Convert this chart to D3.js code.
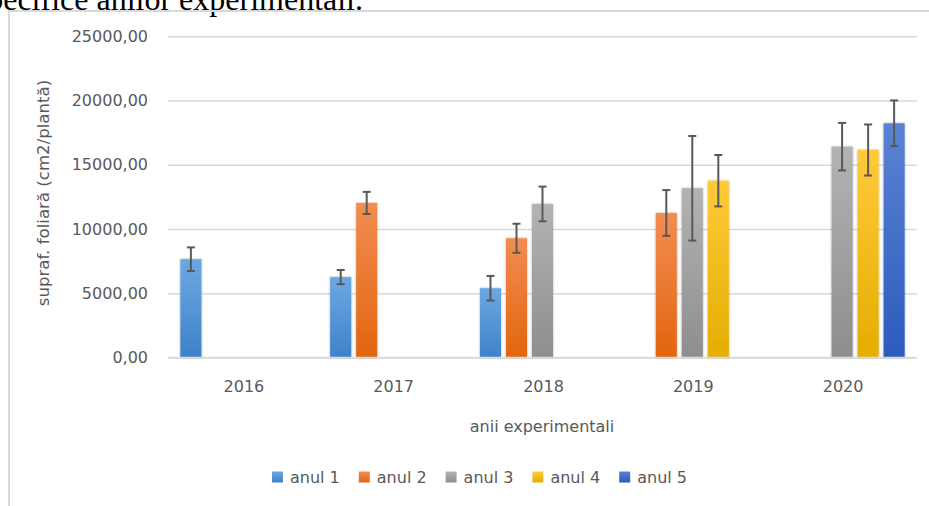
<!DOCTYPE html>
<html>
<head>
<meta charset="utf-8">
<script src="https://cdn.jsdelivr.net/npm/d3@7"></script>
<style>
  body { margin: 0; background: #fff; }
  svg { display: block; }
</style>
</head>
<body>
<div id="chart"></div>
<script>
const years = ["2016", "2017", "2018", "2019", "2020"];
const seriesNames = ["anul 1", "anul 2", "anul 3", "anul 4", "anul 5"];
const anul1 = [7650, 6260, 5390, null, null];
const anul2 = [null, 12030, 9280, 11250, null];
const anul3 = [null, null, 11950, 13170, 16410];
const anul4 = [null, null, null, 13760, 16150];
const anul5 = [null, null, null, null, 18230];
const err1 = [920, 550, 960, null, null];
const err2 = [null, 860, 1130, 1780, null];
const err3 = [null, null, 1350, 4070, 1850];
const err4 = [null, null, null, 2000, 1985];
const err5 = [null, null, null, null, 1780];
const yTicks = [0, 5000, 10000, 15000, 20000, 25000];

const values = [anul1, anul2, anul3, anul4, anul5];
const errors = [err1, err2, err3, err4, err5];

const width = 929, height = 506;
const fontUI = "'DejaVu Sans', sans-serif";
const textColor = "#595959";

const svg = d3.select("#chart").append("svg")
    .attr("width", width)
    .attr("height", height);

// gradients per series (lighter top, darker bottom)
const gradStops = [
    ["#6ca8e2", "#3f82c9"],
    ["#f28d52", "#e2650f"],
    ["#b3b3b3", "#8e8e8e"],
    ["#ffca3a", "#e4ad00"],
    ["#5b83d3", "#2c5bbd"]
];
const defs = svg.append("defs");
gradStops.forEach((c, i) => {
    const g = defs.append("linearGradient")
        .attr("id", "grad" + i)
        .attr("x1", 0).attr("y1", 0).attr("x2", 0).attr("y2", 1);
    g.append("stop").attr("offset", "0%").attr("stop-color", c[0]);
    g.append("stop").attr("offset", "100%").attr("stop-color", c[1]);
});
const shadow = defs.append("filter").attr("id", "shadow")
    .attr("x", "-30%").attr("y", "-10%").attr("width", "160%").attr("height", "120%");
shadow.append("feDropShadow")
    .attr("dx", 0).attr("dy", 0)
    .attr("stdDeviation", 1.2)
    .attr("flood-color", "#000")
    .attr("flood-opacity", 0.35);

// text above the chart frame (cut off by the page top, as in the source)
svg.append("text")
    .attr("x", 363)
    .attr("y", 10)
    .attr("text-anchor", "end")
    .style("font-family", "'Liberation Serif', 'Times New Roman', serif")
    .style("font-size", "32px")
    .style("fill", "#000")
    .text("specifice anilor experimentali.");

// chart frame
svg.append("path")
    .attr("d", `M9,${height} L9,11 L${width},11`)
    .attr("fill", "none")
    .attr("stroke", "#d9d9d9")
    .attr("stroke-width", 2);

const x0 = d3.scaleBand()
    .domain(years)
    .range([168, 917]);

const x1 = d3.scaleBand()
    .domain(seriesNames)
    .range([0, x0.bandwidth()])
    .paddingInner(0.19)
    .paddingOuter(0.475);

const y = d3.scaleLinear()
    .domain([0, 25000])
    .range([357.5, 36.3]);

const fmt = d => d3.format(".2f")(d).replace(".", ",");

// gridlines + y labels
const yAxis = svg.append("g")
    .attr("transform", "translate(168,0)")
    .call(d3.axisLeft(y).tickValues(yTicks).tickSize(-(917 - 168)).tickPadding(20).tickFormat(fmt));
yAxis.select(".domain").remove();
yAxis.selectAll(".tick line")
    .attr("stroke", "#d9d9d9")
    .attr("stroke-width", 1.5);
yAxis.selectAll(".tick text")
    .style("font-family", fontUI)
    .style("font-size", "16px")
    .style("fill", textColor);

// bars
const barData = [];
years.forEach((yr, i) => {
    seriesNames.forEach((s, j) => {
        if (values[j][i] != null) {
            barData.push({year: yr, series: s, idx: j, value: values[j][i], err: errors[j][i]});
        }
    });
});

const bars = svg.append("g");
bars.selectAll("rect")
    .data(barData)
    .enter()
    .append("rect")
    .attr("x", d => x0(d.year) + x1(d.series))
    .attr("y", d => y(d.value))
    .attr("width", x1.bandwidth())
    .attr("height", d => y(0) - y(d.value))
    .attr("fill", d => `url(#grad${d.idx})`)
    .attr("filter", "url(#shadow)");

// x axis baseline
svg.append("line")
    .attr("x1", 168).attr("x2", 917)
    .attr("y1", y(0)).attr("y2", y(0))
    .attr("stroke", "#d9d9d9")
    .attr("stroke-width", 1.5);

// error bars
const errG = svg.append("g")
    .attr("stroke", "#595959")
    .attr("stroke-width", 2);
barData.filter(d => d.err != null).forEach(d => {
    const cx = x0(d.year) + x1(d.series) + x1.bandwidth() / 2;
    const top = y(d.value + d.err), bot = y(d.value - d.err);
    errG.append("line").attr("x1", cx).attr("x2", cx).attr("y1", top).attr("y2", bot);
    errG.append("line").attr("x1", cx - 4).attr("x2", cx + 4).attr("y1", top).attr("y2", top);
    errG.append("line").attr("x1", cx - 4).attr("x2", cx + 4).attr("y1", bot).attr("y2", bot);
});

// x labels
svg.append("g")
    .selectAll("text")
    .data(years)
    .enter()
    .append("text")
    .attr("x", d => x0(d) + x0.bandwidth() / 2 + 1)
    .attr("y", 392)
    .attr("text-anchor", "middle")
    .style("font-family", fontUI)
    .style("font-size", "16px")
    .style("fill", textColor)
    .text(d => d);

// axis titles
svg.append("text")
    .attr("x", 542)
    .attr("y", 432)
    .attr("text-anchor", "middle")
    .style("font-family", fontUI)
    .style("font-size", "16px")
    .style("fill", textColor)
    .text("anii experimentali");

svg.append("text")
    .attr("transform", "translate(49,193) rotate(-90)")
    .attr("text-anchor", "middle")
    .style("font-family", fontUI)
    .style("font-size", "16.6px")
    .style("fill", textColor)
    .text("supraf. foliară (cm2/plantă)");

// legend
const legend = svg.append("g")
    .selectAll("g")
    .data(seriesNames)
    .enter()
    .append("g")
    .attr("transform", (d, i) => `translate(${272 + i * 86.8},477)`);
legend.append("rect")
    .attr("x", 0).attr("y", -5.5)
    .attr("width", 11).attr("height", 11)
    .attr("fill", (d, i) => `url(#grad${i})`);
legend.append("text")
    .attr("x", 18)
    .attr("y", 6)
    .style("font-family", fontUI)
    .style("font-size", "16px")
    .style("fill", textColor)
    .text(d => d);
</script>
</body>
</html>
